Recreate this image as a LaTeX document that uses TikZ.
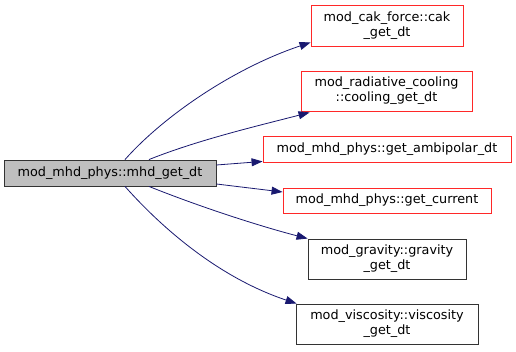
\documentclass[tikz,border=0pt]{standalone}
\usepackage{fontspec}
\setmainfont{DejaVu Sans}
\usetikzlibrary{arrows.meta}

\definecolor{edgeblue}{RGB}{25,25,112}
\definecolor{boxred}{RGB}{255,40,40}
\definecolor{boxgray}{RGB}{191,191,191}

\begin{document}
\begin{tikzpicture}[x=1pt, y=1pt,
  fn/.style={draw=black!80, line width=0.9pt, inner sep=0pt, align=center,
    font=\fontsize{12.8}{15}\selectfont},
  fnred/.style={fn, draw=boxred},
  call/.style={-{Triangle[length=11pt, width=8pt]}, edgeblue, line width=0.8pt}]

  \useasboundingbox (0,0) rectangle (516,351);

  % Caller
  \node[fn, fill=boxgray, minimum width=212pt, minimum height=26pt] (main) at (110,178) {mod\_mhd\_phys::mhd\_get\_dt};

  % Callees
  \node[fnred, minimum width=152pt, minimum height=41pt] (cak) at (387,325.5) {mod\_cak\_force::cak\\\_get\_dt};
  \node[fnred, minimum width=171pt, minimum height=40pt] (cool) at (386.5,260) {mod\_radiative\_cooling\\::cooling\_get\_dt};
  \node[fnred, minimum width=248pt, minimum height=26pt] (ambi) at (387,202) {mod\_mhd\_phys::get\_ambipolar\_dt};
  \node[fnred, minimum width=208pt, minimum height=25pt] (curr) at (387,150.5) {mod\_mhd\_phys::get\_current};
  \node[fn, minimum width=158pt, minimum height=40pt] (grav) at (387,92) {mod\_gravity::gravity\\\_get\_dt};
  \node[fn, minimum width=182pt, minimum height=40pt] (visc) at (387,27) {mod\_viscosity::viscosity\\\_get\_dt};

  % Calls
  \draw[call] ([xshift=15pt]main.north) .. controls +(40,45) and +(-75,-25) .. ([yshift=4pt]cak.south west);
  \draw[call] ([xshift=39pt]main.north) .. controls +(50,20) and +(-50,-13) .. ([xshift=9pt, yshift=-1pt]cool.south west);
  \draw[call] ([yshift=8pt]main.east) -- ([yshift=1pt]ambi.south west);
  \draw[call] ([yshift=-11pt]main.east) -- ([yshift=8.5pt]curr.west);
  \draw[call] ([xshift=39pt]main.south) .. controls +(50,-20) and +(-50,13) .. (grav.north west);
  \draw[call] ([xshift=15pt]main.south) .. controls +(40,-45) and +(-75,25) .. ([xshift=1pt]visc.north west);

\end{tikzpicture}
\end{document}
